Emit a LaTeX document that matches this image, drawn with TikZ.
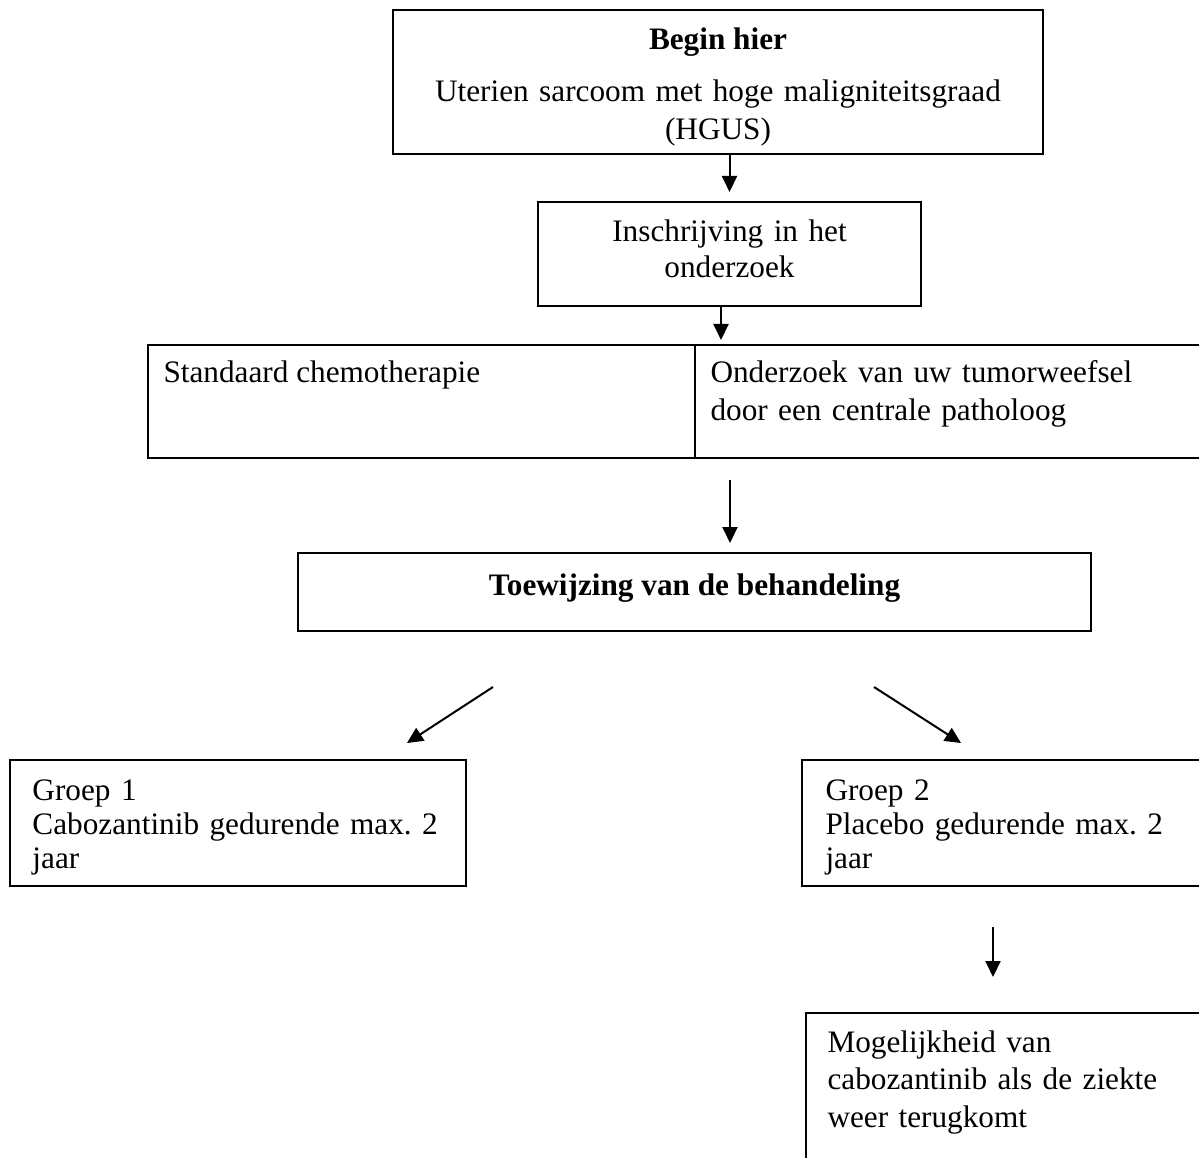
\documentclass[tikz,border=0pt]{standalone}
\usepackage{fontspec}
\setmainfont{Liberation Serif}
\usetikzlibrary{arrows.meta,calc}
\frenchspacing

\begin{document}
\begin{tikzpicture}[x=0.4pt,y=-0.4pt,
  box/.style={draw, line width=0.9pt, inner sep=0pt, outer sep=0pt, anchor=north west},
  txt/.style={inner sep=0pt, font=\fontsize{12.5}{15}\selectfont},
  arr/.style={-{Triangle[length=6.4pt,width=6pt]}, line width=0.8pt}]
  \useasboundingbox (0,0) rectangle (1199,1158);
  \clip (0,0) rectangle (1199,1158);

  % boxes
  \node[box, minimum width=260pt, minimum height=57.6pt] (begin) at (393,10) {};
  \node[box, minimum width=153.2pt, minimum height=41.6pt] (insch) at (538,202) {};
  \node[box, minimum width=218.8pt, minimum height=45.2pt] (chemo) at (148,345) {};
  \node[box, minimum width=206pt, minimum height=45.2pt] (patho) at (695,345) {};
  \node[box, minimum width=317.2pt, minimum height=31.2pt] (toew) at (298,553) {};
  \node[box, minimum width=182.4pt, minimum height=50.4pt] (groep1) at (10,760) {};
  \node[box, minimum width=163.2pt, minimum height=50.4pt] (groep2) at (802,760) {};
  \node[box, minimum width=161.6pt, minimum height=62.8pt] (mog) at (806,1013) {};

  % texts
  \node[txt, anchor=base] (beginT) at (718,50) {\bfseries Begin hier};
  \node[txt, anchor=base, text width=250pt, align=center] (uterienT) at (718,102)
    {Uterien sarcoom met hoge maligniteitsgraad\\(HGUS)};
  \node[txt, anchor=base, text width=140pt, align=center,
    font=\fontsize{12.5}{14.4}\selectfont] (inschT) at (729.5,242) {Inschrijving in het\\onderzoek};
  \node[txt, anchor=base west] (chemoT) at (163,382) {Standaard chemotherapie};
  \node[txt, anchor=base west, text width=200pt, align=left,
    font=\fontsize{12.5}{14.8}\selectfont] (pathoT) at (710,383)
    {Onderzoek van uw tumorweefsel\\door een centrale patholoog};
  \node[txt, anchor=base] (toewT) at (694.5,595) {\bfseries Toewijzing van de behandeling};
  \node[txt, anchor=base west, text width=180pt, align=left,
    font=\fontsize{12.5}{13.6}\selectfont] (groep1T) at (32,800)
    {Groep 1\\Cabozantinib gedurende max. 2\\jaar};
  \node[txt, anchor=base west, text width=160pt, align=left,
    font=\fontsize{12.5}{13.6}\selectfont] (groep2T) at (825,800)
    {Groep 2\\Placebo gedurende max. 2\\jaar};
  \node[txt, anchor=base west, text width=160pt, align=left] (mogT) at (827,1052)
    {Mogelijkheid van\\cabozantinib als de ziekte\\weer terugkomt};

  % arrows
  \draw[arr, shorten >=4pt] (insch.north |- begin.south) -- (insch.north);
  \draw[arr, shorten >=2pt] ([xshift=-3.4pt]insch.south) -- ([xshift=-3.4pt]insch.south |- chemo.north);
  \draw[arr, shorten <=8.8pt, shorten >=4pt] ([xshift=14.2pt]toew.north |- chemo.south) -- ([xshift=14.2pt]toew.north);
  \draw[arr] ($(toew.south west)+(195,56)$) -- ($(groep1.north west)+(397,-17)$);
  \draw[arr] ($(toew.south east)+(-217,56)$) -- ($(groep2.north west)+(159,-17)$);
  \draw[arr] ($(groep2.south west)+(191,41)$) -- ($(mog.north west)+(187,-36)$);
\end{tikzpicture}
\end{document}
